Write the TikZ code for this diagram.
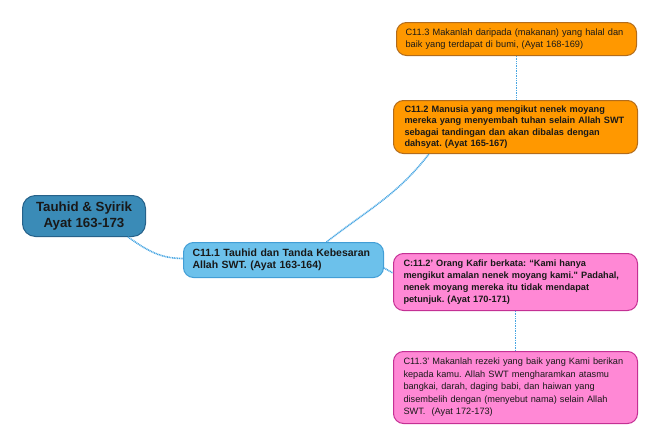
\documentclass[tikz,border=0pt]{standalone}
\usepackage{fontspec}
\setmainfont{Liberation Sans}
\usetikzlibrary{positioning}
\frenchspacing

\definecolor{rootfill}{RGB}{58,139,183}
\definecolor{rootline}{RGB}{38,98,138}
\definecolor{mainfill}{RGB}{108,193,235}
\definecolor{mainline}{RGB}{66,158,214}
\definecolor{orfill}{RGB}{255,152,0}
\definecolor{orline}{RGB}{178,108,28}
\definecolor{pkfill}{RGB}{255,136,213}
\definecolor{pkline}{RGB}{196,48,148}
\definecolor{linkcol}{RGB}{72,166,226}
\definecolor{txt}{RGB}{25,25,25}

\begin{document}
\begin{tikzpicture}[x=1pt, y=-1pt, semithick,
        box/.style={rounded corners=10pt, line width=1pt, anchor=north west,
            inner xsep=9pt, inner ysep=0pt, align=left, text=txt},
        rootbox/.style={box, fill=rootfill, draw=rootline, rounded corners=13pt,
            align=center, minimum width=123pt, minimum height=41pt,
            font={\fontsize{13.3}{15.5}\selectfont\bfseries}},
        mainbox/.style={box, fill=mainfill, draw=mainline, text width=182pt,
            minimum height=35pt, font={\fontsize{10.5}{12.5}\selectfont\bfseries}},
        orbox/.style={box, fill=orfill, draw=orline},
        pkbox/.style={box, fill=pkfill, draw=pkline},
        link/.style={draw=linkcol, line width=1.6pt, dash pattern=on 1pt off 0.7pt}]

        \useasboundingbox (0,0) rectangle (659,442);

        \node[rootbox]  (root) at (22,195)  {Tauhid \& Syirik\\Ayat 163-173};
        \node[mainbox]  (c111) at (183,242) {C11.1 Tauhid dan Tanda Kebesaran\\Allah SWT. (Ayat 163-164)};
        \node[orbox, text width=222pt, minimum height=33pt,
            font={\fontsize{9.25}{12}\selectfont}]             (c113) at (396,22)
            {C11.3 Makanlah daripada (makanan) yang halal dan\\baik yang terdapat di bumi, (Ayat 168-169)};
        \node[orbox, text width=222pt, minimum height=53pt, inner xsep=11pt,
            font={\fontsize{9.2}{11.5}\selectfont\bfseries}]  (c112) at (393,100)
            {C11.2 Manusia yang mengikut nenek moyang\\mereka yang menyembah tuhan selain Allah SWT\\sebagai tandingan dan akan dibalas dengan\\dahsyat. (Ayat 165-167)};
        \node[pkbox, text width=224pt, minimum height=57pt, inner xsep=10pt,
            font={\fontsize{9.2}{12}\selectfont\bfseries}]    (c112b) at (393,253)
            {C:11.2' Orang Kafir berkata: “Kami hanya\\mengikut amalan nenek moyang kami.\textquotedbl{} Padahal,\\nenek moyang mereka itu tidak mendapat\\petunjuk. (Ayat 170-171)};
        \node[pkbox, text width=224pt, minimum height=72pt, inner xsep=10pt,
            font={\fontsize{9.2}{12.5}\selectfont}]           (c113b) at (393,351)
            {C11.3' Makanlah rezeki yang baik yang Kami berikan\\kepada kamu. Allah SWT mengharamkan atasmu\\bangkai, darah, daging babi, dan haiwan yang\\disembelih dengan (menyebut nama) selain Allah\\SWT.\ \ (Ayat 172-173)};

        % dotted links between the boxes
        \path[link] ([xshift=-18pt]root.south east) to[out=-35, in=180] ([yshift=1.5pt]c111.west);
        \path[link] ([xshift=43pt]c111.north) to[out=38, in=-128] ([xshift=36pt]c112.south west);
        \path[link] ([yshift=-8pt]c111.east) -- ([yshift=9pt]c112b.west);
        \path[link] (c113.south) -- (c113.south |- c112.north);
        \path[link] (c112b.south) -- (c112b.south |- c113b.north);

    \end{tikzpicture}
\end{document}
